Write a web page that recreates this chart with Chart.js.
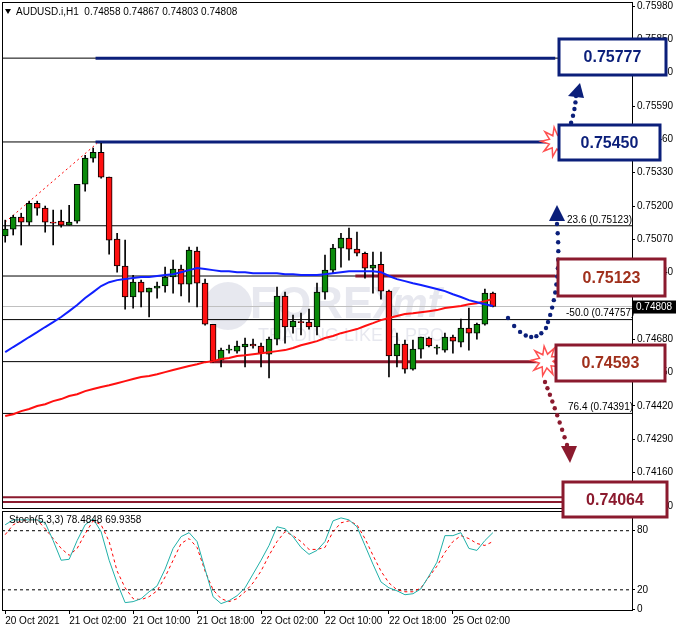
<!DOCTYPE html>
<html>
<head>
<meta charset="utf-8">
<script src="https://cdn.jsdelivr.net/npm/chart.js@4/dist/chart.umd.min.js"></script>
<style>
  body { margin: 0; background: #fff; }
  #wrap { position: relative; width: 678px; height: 632px; background: #fff; }
  canvas { position: absolute; left: 0; }
  #stoch { top: 510px; }
  #main { top: 0; }
</style>
</head>
<body>
<div id="wrap">
  <canvas id="stoch" width="678" height="122"></canvas>
  <canvas id="main" width="678" height="632"></canvas>
</div>
<script>
// hourly candles, 20 Oct 18:00 .. 25 Oct 05:00
const opens = [0.75083,0.75110,0.75157,0.75137,0.75211,0.75192,0.75137,0.75141,0.75125,0.75141,0.75285,0.75387,0.75410,0.75313,0.75071,0.74966,0.74845,0.74903,0.74864,0.74880,0.74888,0.74923,0.74954,0.74895,0.75024,0.74899,0.74739,0.74599,0.74638,0.74634,0.74650,0.74661,0.74654,0.74622,0.74681,0.74849,0.74728,0.74747,0.74747,0.74728,0.74864,0.74950,0.75036,0.75075,0.75032,0.75016,0.74958,0.74973,0.74868,0.74615,0.74661,0.74564,0.74642,0.74685,0.74646,0.74638,0.74689,0.74669,0.74724,0.74704,0.74739,0.74860];
const highs = [0.75145,0.75164,0.75172,0.75219,0.75219,0.75200,0.75184,0.75184,0.75203,0.75285,0.75398,0.75426,0.75445,0.75313,0.75094,0.75067,0.74930,0.74911,0.74880,0.74903,0.74962,0.74989,0.74970,0.75040,0.75040,0.74915,0.74739,0.74646,0.74658,0.74673,0.74685,0.74681,0.74665,0.74689,0.74884,0.74864,0.74775,0.74782,0.74798,0.74899,0.75009,0.75051,0.75094,0.75114,0.75098,0.75020,0.75020,0.75020,0.74872,0.74704,0.74677,0.74677,0.74689,0.74689,0.74658,0.74704,0.74697,0.74759,0.74802,0.74743,0.74876,0.74864];
const lows = [0.75059,0.75087,0.75048,0.75125,0.75164,0.75098,0.75048,0.75118,0.75125,0.75133,0.75258,0.75371,0.75309,0.75012,0.74942,0.74798,0.74802,0.74806,0.74767,0.74841,0.74864,0.74860,0.74849,0.74825,0.74806,0.74735,0.74591,0.74572,0.74626,0.74626,0.74572,0.74646,0.74572,0.74529,0.74658,0.74665,0.74704,0.74697,0.74720,0.74697,0.74837,0.74938,0.74962,0.74989,0.75005,0.74919,0.74860,0.74837,0.74533,0.74572,0.74548,0.74560,0.74607,0.74650,0.74622,0.74630,0.74626,0.74650,0.74638,0.74681,0.74735,0.74806];
const closes = [0.75110,0.75157,0.75137,0.75211,0.75192,0.75137,0.75133,0.75125,0.75137,0.75285,0.75387,0.75410,0.75313,0.75067,0.74966,0.74845,0.74903,0.74864,0.74880,0.74888,0.74923,0.74954,0.74895,0.75028,0.74899,0.74739,0.74595,0.74638,0.74642,0.74654,0.74661,0.74654,0.74626,0.74681,0.74849,0.74728,0.74751,0.74745,0.74728,0.74864,0.74950,0.75036,0.75075,0.75032,0.75016,0.74958,0.74970,0.74868,0.74615,0.74661,0.74564,0.74642,0.74689,0.74654,0.74650,0.74689,0.74673,0.74724,0.74704,0.74739,0.74860,0.74808];
const maBlue = [0.74630,0.74650,0.74669,0.74689,0.74708,0.74728,0.74747,0.74767,0.74790,0.74814,0.74841,0.74864,0.74888,0.74903,0.74911,0.74915,0.74919,0.74923,0.74923,0.74927,0.74931,0.74934,0.74942,0.74950,0.74958,0.74954,0.74950,0.74946,0.74946,0.74942,0.74942,0.74938,0.74938,0.74938,0.74938,0.74934,0.74934,0.74931,0.74931,0.74931,0.74934,0.74938,0.74942,0.74946,0.74946,0.74946,0.74946,0.74942,0.74927,0.74915,0.74907,0.74899,0.74892,0.74884,0.74876,0.74868,0.74856,0.74845,0.74833,0.74825,0.74817,0.74810];
const maRed = [0.74381,0.74388,0.74400,0.74408,0.74420,0.74427,0.74439,0.74447,0.74459,0.74466,0.74478,0.74486,0.74494,0.74501,0.74509,0.74517,0.74525,0.74533,0.74537,0.74544,0.74552,0.74560,0.74568,0.74576,0.74583,0.74591,0.74595,0.74603,0.74607,0.74615,0.74618,0.74622,0.74626,0.74630,0.74634,0.74638,0.74646,0.74657,0.74665,0.74673,0.74685,0.74693,0.74704,0.74712,0.74720,0.74732,0.74743,0.74755,0.74763,0.74771,0.74779,0.74782,0.74786,0.74790,0.74794,0.74802,0.74806,0.74810,0.74817,0.74821,0.74829,0.74837];
const stochMain = [86,91,91,91,91,88,70,50,51,70,86,92,79,50,27,7,8,11,18,24,41,62,74,78,69,41,13,6,9,14,22,36,50,65,84,82,74,63,56,60,69,90,93,91,84,65,46,28,22,19,15,16,21,34,48,75,75,78,62,60,70,78];
const stochSignal = [76,86,90,91,91,82,72,62,55,62,77,90,86,69,39,22,11,10,13,19,33,50,67,72,63,39,20,11,8,11,18,27,39,55,69,79,75,69,61,61,63,79,88,90,86,72,55,39,27,20,18,18,22,33,44,58,69,75,72,67,65,69];
const priceTicks = [0.75980,0.75850,0.75720,0.75590,0.75460,0.75330,0.75200,0.75070,0.74940,0.74680,0.74550,0.74420,0.74290,0.74160,0.74030];
const timeTicks = [0, 8, 16, 24, 32, 40, 48, 56];
const timeLabels = ["20 Oct 2021","21 Oct 02:00","21 Oct 10:00","21 Oct 18:00","22 Oct 02:00","22 Oct 10:00","22 Oct 18:00","25 Oct 02:00"];
const fibTrend = [[0, 0.75137], [11.5, 0.75445]];
const levels = { top: 0.75777, high: 0.75450, fib236: 0.75123, res: 0.74927, fib50: 0.74757, sup: 0.74593, fib764: 0.74391, low: 0.74064, low2: 0.74045 };
const last = 0.74808;

const XMIN = -0.4, XMAX = 78.4;
const FONT = "Liberation Sans";
const NAVY = "#0b1f7a", MAROON = "#8b1a2e", BOXTXT_RED = "#a0301c";

function hline(v, x0, x1, color, w, ord) {
  return { type: "line", data: [{x: x0, y: v}, {x: x1, y: v}], borderColor: color, borderWidth: w,
           pointRadius: 0, order: ord };
}

const idx = opens.map((_, i) => i);
const bodies = idx.map(i => ({ x: i, y: [opens[i], closes[i]] }));
const wicks = idx.map(i => ({ x: i, y: [lows[i], highs[i]] }));
const bodyColors = idx.map(i => closes[i] >= opens[i] ? "#0a8a0a" : "#ff1010");

function drawDots(ctx, pts, color, r) {
  ctx.fillStyle = color;
  pts.forEach(p => { ctx.beginPath(); ctx.arc(p[0], p[1], r, 0, Math.PI * 2); ctx.fill(); });
}
function curveDots(ctx, p0, c, p1, n, color) {
  const pts = [];
  for (let k = 0; k <= n; k++) {
    const t = k / n;
    pts.push([(1-t)*(1-t)*p0[0] + 2*(1-t)*t*c[0] + t*t*p1[0], (1-t)*(1-t)*p0[1] + 2*(1-t)*t*c[1] + t*t*p1[1]]);
  }
  drawDots(ctx, pts, color, 2.2);
}
function tri(ctx, a, b, c, color) {
  ctx.fillStyle = color; ctx.beginPath(); ctx.moveTo(a[0], a[1]); ctx.lineTo(b[0], b[1]); ctx.lineTo(c[0], c[1]); ctx.fill();
}
function star(ctx, cx, cy, r1, r2, n) {
  ctx.beginPath();
  for (let k = 0; k < n * 2; k++) {
    const r = k % 2 ? r2 : r1, a = k * Math.PI / n - 0.3;
    ctx.lineTo(cx + r * Math.cos(a), cy + r * Math.sin(a));
  }
  ctx.closePath();
  ctx.fillStyle = "#fff"; ctx.fill();
  ctx.strokeStyle = "#ff5050"; ctx.lineWidth = 1.5; ctx.stroke();
}
function box(ctx, x0, y0, x1, y1, color, txtColor, text) {
  ctx.fillStyle = "#fff"; ctx.fillRect(x0, y0, x1 - x0, y1 - y0);
  ctx.strokeStyle = color; ctx.lineWidth = 3; ctx.strokeRect(x0, y0, x1 - x0, y1 - y0);
  ctx.fillStyle = txtColor; ctx.font = "bold 16px " + FONT; ctx.textAlign = "center"; ctx.textBaseline = "middle";
  ctx.fillText(text, (x0 + x1) / 2, (y0 + y1) / 2 + 1);
}

const underlay = {
  id: "underlay",
  beforeDatasetsDraw(chart) {
    const ctx = chart.ctx;
    ctx.save();
    // watermark
    ctx.globalAlpha = 0.18;
    ctx.fillStyle = "#7a80a8";
    ctx.beginPath(); ctx.arc(228, 306, 24, 0, Math.PI * 2); ctx.fill();
    ctx.font = "bold 44px " + FONT; ctx.textBaseline = "middle"; ctx.textAlign = "left";
    ctx.fillText("FOREX", 250, 306);
    ctx.font = "italic bold 40px " + FONT; ctx.fillText("mf", 392, 306);
    ctx.font = "18px " + FONT; ctx.fillText("TRADING LIKE A PRO", 258, 336);
    ctx.restore();
  }
};

const overlay = {
  id: "overlay",
  afterDraw(chart) {
    const ctx = chart.ctx, a = chart.chartArea, y = chart.scales.y;
    ctx.save();
    ctx.strokeStyle = "#000"; ctx.lineWidth = 1;
    ctx.strokeRect(a.left + 0.5, a.top + 0.5, a.width, a.height);
    // title
    ctx.fillStyle = "#000"; ctx.font = "10px " + FONT; ctx.textAlign = "left"; ctx.textBaseline = "middle";
    ctx.fillText("AUDUSD.i,H1  0.74858 0.74867 0.74803 0.74808", 16, 12);
    tri(ctx, [5, 9], [11, 9], [8, 14], "#000");
    // fib labels
    ctx.textAlign = "left"; ctx.textBaseline = "bottom";
    ctx.fillText("23.6 (0.75123)", 567, y.getPixelForValue(levels.fib236) - 1);
    ctx.fillText("-50.0 (0.74757)", 566, y.getPixelForValue(levels.fib50) - 1);
    ctx.fillText("76.4 (0.74391)", 568, y.getPixelForValue(levels.fib764) - 1);
    // current price tag
    const py = y.getPixelForValue(last);
    ctx.fillStyle = "#000"; ctx.fillRect(633, py - 6, 43, 13);
    ctx.fillStyle = "#fff"; ctx.textBaseline = "middle"; ctx.fillText("0.74808", 636, py + 1);
    // dotted arrows
    curveDots(ctx, [566, 137], [575, 115], [576, 96], 6, NAVY);
    tri(ctx, [568, 96], [584, 98], [580, 83], NAVY);
    curveDots(ctx, [508, 318], [530, 350], [546, 328], 7, NAVY);
    curveDots(ctx, [548, 322], [562, 280], [557, 224], 12, NAVY);
    tri(ctx, [549, 221], [565, 221], [557, 205], NAVY);
    curveDots(ctx, [545, 382], [556, 410], [567, 445], 9, MAROON);
    tri(ctx, [561, 446], [577, 446], [570, 463], MAROON);
    // bursts and boxes
    star(ctx, 556, 142, 15, 7, 9);
    star(ctx, 546, 361, 15, 7, 9);
    box(ctx, 559, 39, 666, 75, NAVY, NAVY, "0.75777");
    box(ctx, 559, 125, 660, 160, NAVY, NAVY, "0.75450");
    box(ctx, 558, 259, 665, 296, MAROON, BOXTXT_RED, "0.75123");
    box(ctx, 556, 345, 665, 381, MAROON, BOXTXT_RED, "0.74593");
    box(ctx, 563, 482, 667, 517, MAROON, MAROON, "0.74064");
    ctx.restore();
  }
};

new Chart(document.getElementById("main"), {
  type: "bar",
  data: {
    datasets: [
      { type: "line", data: idx.map(i => ({x: i, y: maBlue[i]})), borderColor: "#1020ff", borderWidth: 2, pointRadius: 0, order: 0 },
      { type: "line", data: idx.map(i => ({x: i, y: maRed[i]})), borderColor: "#ff1010", borderWidth: 2, pointRadius: 0, order: 0 },
      { data: bodies, backgroundColor: bodyColors, borderColor: "#000", borderWidth: 1, borderSkipped: false,
        barThickness: 6, grouped: false, minBarLength: 1, order: 1 },
      { data: wicks, backgroundColor: "#000", barThickness: 1, grouped: false, order: 2 },
      { type: "line", data: fibTrend.map(p => ({x: p[0], y: p[1]})), borderColor: "#ff0000", borderWidth: 1, borderDash: [2, 3], pointRadius: 0, order: 3 },
      hline(levels.top, 11.3, 68.8, NAVY, 3, 4),
      hline(levels.high, 11.3, 68.8, NAVY, 3, 4),
      hline(levels.res, 43.8, 68.8, MAROON, 3, 4),
      hline(levels.sup, 25.6, 68.2, MAROON, 3, 4),
      hline(levels.low, XMIN, XMAX, MAROON, 2, 4),
      hline(levels.low2, XMIN, XMAX, MAROON, 2, 4),
      hline(levels.top, XMIN, XMAX, "#000", 1, 5),
      hline(levels.high, XMIN, XMAX, "#000", 1, 5),
      hline(levels.fib236, XMIN, XMAX, "#000", 1, 5),
      hline(levels.res, XMIN, XMAX, "#000", 1, 5),
      hline(last, XMIN, XMAX, "#c0c0c0", 1, 5),
      hline(levels.fib50, XMIN, XMAX, "#000", 1, 5),
      hline(levels.sup, XMIN, XMAX, "#000", 1, 5),
      hline(levels.fib764, XMIN, XMAX, "#000", 1, 5)
    ]
  },
  options: {
    responsive: false, animation: false,
    layout: { padding: { left: 2, top: 2, right: 0, bottom: 124 } },
    plugins: { legend: { display: false }, tooltip: { enabled: false } },
    scales: {
      x: { type: "linear", min: XMIN, max: XMAX, display: false, offset: false },
      y: {
        position: "right", min: 0.74022, max: 0.75996,
        afterFit(s) { s.width = 46; s.paddingTop = 0; s.paddingBottom = 0; },
        afterBuildTicks(s) { s.ticks = priceTicks.map(v => ({ value: v })); },
        grid: { drawOnChartArea: false, tickLength: 3, color: "#000" },
        border: { color: "#000" },
        ticks: { font: { family: FONT, size: 10 }, color: "#000", padding: 2, callback: v => v.toFixed(5) }
      }
    }
  },
  plugins: [underlay, overlay]
});

const stochFrame = {
  id: "stochFrame",
  afterDraw(chart) {
    const ctx = chart.ctx, a = chart.chartArea;
    ctx.save();
    ctx.strokeStyle = "#000"; ctx.lineWidth = 1;
    ctx.strokeRect(a.left + 0.5, a.top + 0.5, a.width, a.height);
    ctx.fillStyle = "#000"; ctx.font = "10px " + FONT; ctx.textBaseline = "middle";
    ctx.fillText("Stoch(5,3,3) 78.4848 69.9358", 9, 10);
    ctx.restore();
  }
};

new Chart(document.getElementById("stoch"), {
  type: "line",
  data: {
    datasets: [
      { data: idx.map(i => ({x: i, y: stochMain[i]})), borderColor: "#20b0a8", borderWidth: 1, pointRadius: 0 },
      { data: idx.map(i => ({x: i, y: stochSignal[i]})), borderColor: "#ff0000", borderWidth: 1, borderDash: [3, 3], pointRadius: 0 },
      { data: [{x: XMIN, y: 80}, {x: XMAX, y: 80}], borderColor: "#000", borderWidth: 1, borderDash: [3, 3], pointRadius: 0 },
      { data: [{x: XMIN, y: 20}, {x: XMAX, y: 20}], borderColor: "#000", borderWidth: 1, borderDash: [3, 3], pointRadius: 0 }
    ]
  },
  options: {
    responsive: false, animation: false,
    layout: { padding: { left: 2, top: 1, right: 0, bottom: 0 } },
    plugins: { legend: { display: false }, tooltip: { enabled: false } },
    scales: {
      x: {
        type: "linear", min: XMIN, max: XMAX,
        afterFit(s) { s.height = 22; s.paddingLeft = 0; s.paddingRight = 0; },
        afterBuildTicks(s) { s.ticks = timeTicks.map(v => ({ value: v })); },
        grid: { drawOnChartArea: false, tickLength: 4, color: "#000" },
        border: { color: "#000" },
        ticks: { font: { family: FONT, size: 10 }, color: "#000", maxRotation: 0, align: "start", padding: 1,
                 callback: v => timeLabels[timeTicks.indexOf(v)] }
      },
      y: {
        position: "right", min: -0.5, max: 100,
        afterFit(s) { s.width = 46; s.paddingTop = 0; s.paddingBottom = 0; },
        afterBuildTicks(s) { s.ticks = [0, 20, 80, 100].map(v => ({ value: v })); },
        grid: { drawOnChartArea: false, tickLength: 3, color: "#000" },
        border: { color: "#000" },
        ticks: { font: { family: FONT, size: 10 }, color: "#000", padding: 2 }
      }
    }
  },
  plugins: [stochFrame]
});
</script>
</body>
</html>
